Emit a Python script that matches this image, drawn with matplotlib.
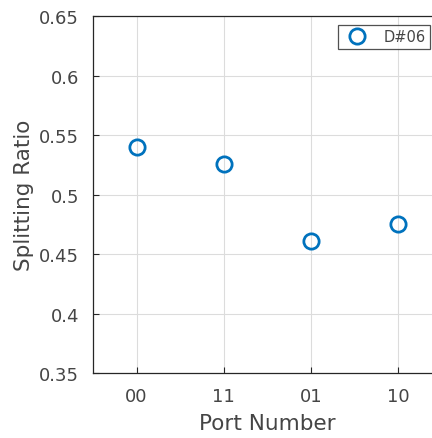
import matplotlib
matplotlib.use('Agg')
import matplotlib.pyplot as plt

ports = ['00', '11', '01', '10']
ratio = [0.540, 0.526, 0.461, 0.475]
yticks = [0.35, 0.4, 0.45, 0.5, 0.55, 0.6, 0.65]
ytick_labels = ['0.35', '0.4', '0.45', '0.5', '0.55', '0.6', '0.65']

txt = '#454545'
plt.rcParams['font.family'] = ['DejaVu Sans']

fig = plt.figure(figsize=(4.32, 4.39), dpi=100)
# right side of the axes is cut off by the figure edge, like the original crop
ax = fig.add_axes([93 / 432, 1 - 374 / 439, 349 / 432, 357 / 439])

x = list(range(1, len(ports) + 1))
ax.plot(x, ratio, 'o', linestyle='none', markersize=11, markerfacecolor='none',
        markeredgecolor='#0072BD', markeredgewidth=2, label='D#06')

ax.set_xlim(0.5, 4.5)
ax.set_ylim(0.35, 0.65)
ax.set_xticks(x)
ax.set_xticklabels(ports)
ax.set_yticks(yticks)
ax.set_yticklabels(ytick_labels)
ax.grid(True, color='#dcdcdc', linewidth=0.8)
ax.set_axisbelow(True)
ax.tick_params(direction='in', length=4, colors='#262626', labelcolor=txt,
               labelsize=13, pad=10)
for s in ax.spines.values():
    s.set_color('#262626')
    s.set_linewidth(0.9)

ax.set_xlabel('Port Number', fontsize=15.5, color=txt, labelpad=6)
ax.set_ylabel('Splitting Ratio', fontsize=15.5, color=txt, labelpad=4)

leg = ax.legend(loc='upper right', bbox_to_anchor=(430 / 432, 1 - 26 / 439),
                bbox_transform=fig.transFigure, borderaxespad=0, fancybox=False,
                fontsize=10.5, handletextpad=0.8, borderpad=0.3)
leg.get_frame().set_edgecolor('#262626')
leg.get_frame().set_linewidth(0.9)
for t in leg.get_texts():
    t.set_color(txt)

fig.savefig('out.png', dpi=100)
